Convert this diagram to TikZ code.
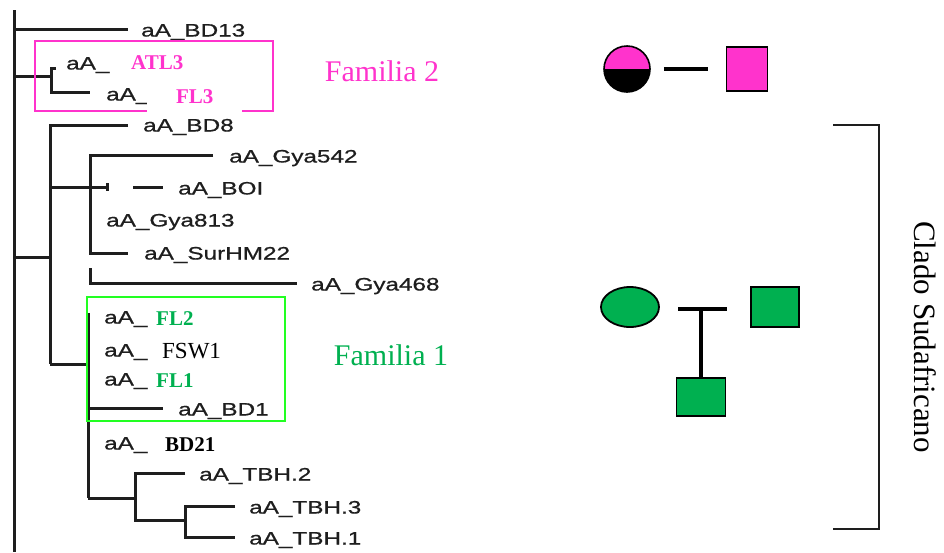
\documentclass[tikz,border=0pt]{standalone}
\usepackage{fontspec}
\setmainfont{Liberation Serif}
\newfontfamily\treefont[FakeStretch=1.35,FakeBold=0.8]{Liberation Sans}
\usetikzlibrary{shapes.geometric,positioning,calc}
\definecolor{TreeInk}{HTML}{1E1E1E}
\definecolor{FamPink}{HTML}{FF33CC}
\definecolor{FamGreen}{HTML}{00B050}
\definecolor{BoxGreen}{HTML}{22FF22}
\tikzset{
  branch/.style={line width=3pt,color=TreeInk},
  leaf/.style={anchor=west,inner sep=0pt,font=\treefont\fontsize{18}{18}\selectfont,text=TreeInk,text height=13pt,text depth=0pt},
  tag/.style={anchor=west,inner sep=0pt,font=\fontsize{21}{21}\selectfont\bfseries,text height=14pt,text depth=0pt},
  famlabel/.style={font=\fontsize{30}{30}\selectfont},
  sq/.style={rectangle,draw=black,line width=1.8pt,inner sep=0pt},
  kin/.style={line width=4.5pt,color=black},
}

\begin{document}
\begin{tikzpicture}[x=1pt,y=-1pt]
  \useasboundingbox (0,0) rectangle (944,552);

  % Backbone of the tree
  \coordinate (r) at (14,10);
  \coordinate (rb) at (14,552);
  \draw[branch] (r) -- (rb);

  % Top leaf
  \coordinate (t13) at (128,29);
  \draw[branch] (r |- t13) -- (t13);
  \node[leaf] (l13) at (141,30) {aA\_BD13};

  % Familia 2 clade
  \coordinate (c2) at (51,76);
  \coordinate (tatl) at (56,68);
  \coordinate (tfl3) at (90,92);
  \draw[branch] (r |- c2) -- (c2);
  \draw[branch] (tatl) -| (c2 |- tfl3) -- (tfl3);
  \draw[FamPink,line width=1.6pt] (35,41) rectangle (273,111);
  \node[leaf] (latl) at (66,63) {aA\_};
  \node[tag,text=FamPink] (atl3) at (131,62) {ATL3};
  \node[leaf] (lfl3) at (106,94) {aA\_};
  \node[tag,text=FamPink,fill=white,minimum width=95pt,minimum height=31pt,text height=14pt,inner xsep=19pt] (fl3) at (147,96) {FL3};

  % Main clade
  \coordinate (c3) at (50,257);
  \coordinate (t8) at (128,125);
  \coordinate (c5) at (50,364);
  \draw[branch] (r |- c3) -- (c3);
  \draw[branch] (t8) -| (c5);
  \node[leaf] (l8) at (143,125) {aA\_BD8};

  % Gya subclade
  \coordinate (c4) at (90,187);
  \coordinate (t542) at (213,155);
  \coordinate (tsur) at (128,253);
  \draw[branch] (c3 |- c4) -- (c4);
  \draw[branch] (t542) -| (c4 |- tsur) -- (tsur);
  \node[leaf] (l542) at (229,156) {aA\_Gya542};
  \coordinate (boia) at (107,187);
  \coordinate (boib) at (133,187);
  \coordinate (boic) at (163,187);
  \draw[branch] (c4) -- (boia);
  \draw[branch] ($(boia)+(0,-4)$) -- ($(boia)+(0,4)$);
  \draw[branch] (boib) -- (boic);
  \node[leaf] (lboi) at (178,188) {aA\_BOI};
  \node[leaf] (l813) at (106,220) {aA\_Gya813};
  \node[leaf] (lsur) at (144,253) {aA\_SurHM22};
  \coordinate (g468) at (90,268);
  \coordinate (t468) at (297,283);
  \draw[branch] (g468) |- (t468);
  \node[leaf] (l468) at (311,284) {aA\_Gya468};

  % Familia 1 and the rest
  \coordinate (c6) at (88,364);
  \coordinate (c6top) at (88,313);
  \coordinate (c7) at (88,498);
  \draw[branch] (c5) -- (c6);
  \draw[branch] (c6top) -- (c7);
  \draw[BoxGreen,line width=1.6pt] (87,297) rectangle (285,421);
  \node[leaf] (lfl2) at (104,317) {aA\_};
  \node[tag,text=FamGreen] (fl2) at (156,318) {FL2};
  \node[leaf] (lfsw) at (104,350) {aA\_};
  \node[tag,font=\fontsize{23}{23}\selectfont] (fsw1) at (162,351) {FSW1};
  \node[leaf] (lfl1) at (104,379) {aA\_};
  \node[tag,text=FamGreen] (fl1) at (156,380) {FL1};
  \coordinate (tbd1) at (163,408);
  \draw[branch] (c6 |- tbd1) -- (tbd1);
  \node[leaf] (lbd1) at (178,409) {aA\_BD1};
  \node[leaf] (lbd21) at (104,443) {aA\_};
  \node[tag] (bd21) at (165,444) {BD21};

  % TBH subclade
  \coordinate (c8) at (135,498);
  \coordinate (ttbh2) at (185,473);
  \coordinate (c9) at (185,520);
  \draw[branch] (c7) -- (c8);
  \draw[branch] (ttbh2) -| (c8 |- c9) -- (c9);
  \node[leaf] (ltbh2) at (199,474) {aA\_TBH.2};
  \coordinate (ttbh3) at (235,506);
  \coordinate (ttbh1) at (235,537);
  \draw[branch] (ttbh3) -| (c9) |- (ttbh1);
  \node[leaf] (ltbh3) at (249,507) {aA\_TBH.3};
  \node[leaf] (ltbh1) at (249,538) {aA\_TBH.1};

  % Family labels
  \node[famlabel,text=FamPink] (fam2) at (382,71) {Familia 2};
  \node[famlabel,text=FamGreen] (fam1) at (391,355) {Familia 1};

  % Pedigree, Familia 2
  \node[circle,draw=black,line width=1.6pt,minimum size=46pt,inner sep=0pt,fill=FamPink,
        path picture={\fill[black] (path picture bounding box.west) rectangle (path picture bounding box.south east);}] (mom2) at (627,69) {};
  \node[sq,fill=FamPink,minimum width=41pt,minimum height=44pt] (son2) at (747,69) {};
  \draw[kin,shorten <=13pt,shorten >=18pt] (mom2) -- (son2);

  % Pedigree, Familia 1
  \node[ellipse,draw=black,line width=1.8pt,fill=FamGreen,minimum width=58pt,minimum height=40pt,inner sep=0pt] (mom1) at (630,307) {};
  \node[sq,fill=FamGreen,minimum width=48pt,minimum height=40pt] (dad1) at (775,307) {};
  \node[sq,fill=FamGreen,minimum width=49pt,minimum height=38pt] (kid1) at (701,397) {};
  \coordinate (barl) at (678,309);
  \coordinate (barr) at (727,309);
  \draw[kin] (barl) -- (barr);
  \draw[kin] (kid1.north |- barl) -- (kid1.north);

  % Clade bracket
  \coordinate (brtop) at (833,125);
  \coordinate (brbot) at (833,529);
  \draw[line width=1.8pt,color=TreeInk] (brtop) -- ++(46,0) |- (brbot);
  \node[rotate=-90,font=\fontsize{31}{31}\selectfont] (clado) at (925,337) {Clado Sudafricano};
\end{tikzpicture}
\end{document}
